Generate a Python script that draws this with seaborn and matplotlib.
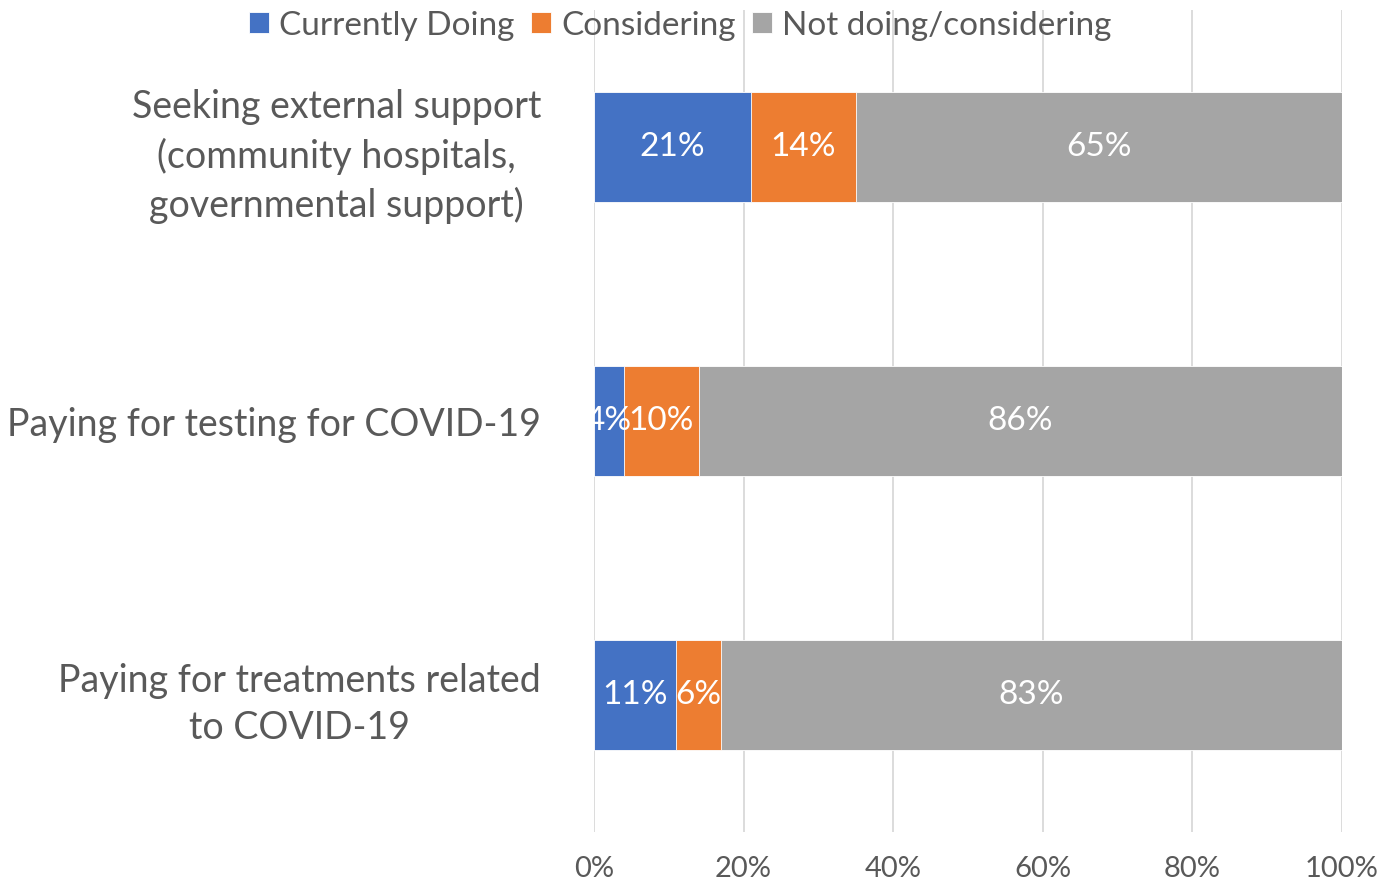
import numpy as np
import pandas as pd
import matplotlib.pyplot as plt
import seaborn as sns

sns.set_style('white')
plt.rcParams['font.family'] = ['Lato', 'DejaVu Sans']

categories = ['Seeking external support\n(community hospitals,\ngovernmental support)',
              'Paying for testing for COVID-19',
              'Paying for treatments related\nto COVID-19']
series = ['Currently Doing', 'Considering', 'Not doing/considering']
doing = [21, 4, 11]
considering = [14, 10, 6]
not_doing = [65, 86, 83]
colors = ['#4472C4', '#ED7D31', '#A5A5A5']
text_color = '#595959'

df = pd.DataFrame({'category': categories,
                   'Currently Doing': doing,
                   'Considering': considering,
                   'Not doing/considering': not_doing})
vals = df[series].to_numpy(dtype=float)
cum = vals.cumsum(axis=1)

fig = plt.figure(figsize=(13.83, 8.86), dpi=100)
ax = fig.add_axes([0.4295, 0.0609, 0.5408, 0.9278])

### stacked bars: draw the cumulative totals back to front
for j in reversed(range(len(series))):
    sns.barplot(x=cum[:, j], y=df['category'], orient='h', color=colors[j],
                width=0.4, ax=ax, label=series[j], saturation=1,
                edgecolor='white', linewidth=0.6, zorder=2)

for i in range(len(categories)):
    for j in range(len(series)):
        ax.text(cum[i, j] - vals[i, j] / 2, i, f'{vals[i, j]:.0f}%',
                ha='center', va='center', color='white', fontsize=24, zorder=3)

ax.set_xlim(0, 100)
ax.set_ylim(2.5, -0.5)
ax.set_xticks(np.arange(0, 101, 20))
ax.set_xticklabels([f'{t}%' for t in range(0, 101, 20)])
ax.grid(axis='x', color='#D9D9D9', linewidth=1.3, zorder=0)
ax.set_axisbelow(True)
for s in ax.spines.values():
    s.set_visible(False)
ax.set_xlabel('')
ax.set_ylabel('')
ax.tick_params(axis='x', length=0, pad=17, labelsize=21, labelcolor=text_color)
ax.tick_params(axis='y', length=0, pad=38, labelsize=27, labelcolor=text_color)
for lbl in ax.get_yticklabels():
    lbl.set_multialignment('center')
    lbl.set_linespacing(1.4)

handles, labels = ax.get_legend_handles_labels()
if ax.legend_:
    ax.legend_.remove()
order = [labels.index(s) for s in series]
fig.legend([handles[k] for k in order], [labels[k] for k in order],
           loc='upper center', bbox_to_anchor=(0.492, 1.022), ncol=3, frameon=False,
           fontsize=24, labelcolor=text_color, handlelength=0.6, handleheight=0.6,
           handletextpad=0.3, columnspacing=0.5)

fig.savefig('out.png', dpi=100)
